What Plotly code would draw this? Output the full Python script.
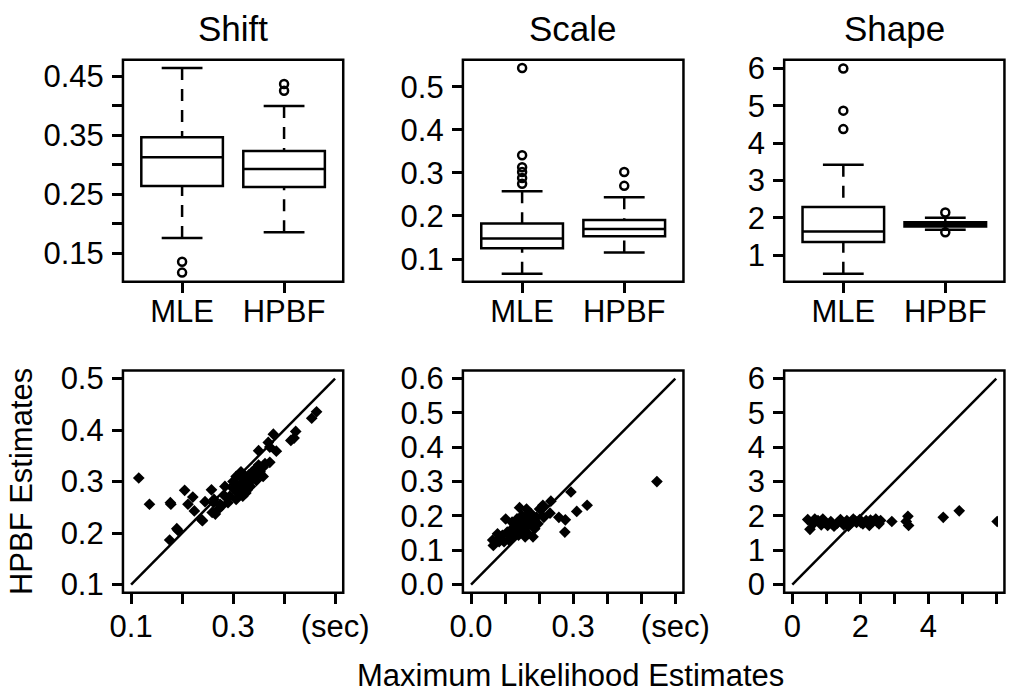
import plotly.graph_objects as go

# ---------------- data ----------------
box_labels = ["MLE", "HPBF"]

# Shift box statistics [MLE, HPBF]
shift_q1 = [0.264, 0.2625]
shift_med = [0.3126, 0.2928]
shift_q3 = [0.3466, 0.3235]
shift_lo = [0.176, 0.186]
shift_hi = [0.4637, 0.3994]
shift_out_mle = [0.136, 0.1175]
shift_out_hpbf = [0.4368, 0.4253]

# Scale box statistics
scale_q1 = [0.125, 0.153]
scale_med = [0.1475, 0.170]
scale_q3 = [0.1824, 0.1905]
scale_lo = [0.066, 0.1152]
scale_hi = [0.2577, 0.2434]
scale_out_mle = [0.5437, 0.341, 0.313, 0.302, 0.288, 0.275]
scale_out_hpbf = [0.302, 0.270]

# Shape box statistics
shape_q1 = [1.35, 1.77]
shape_med = [1.636, 1.83]
shape_q3 = [2.288, 1.88]
shape_lo = [0.504, 1.68]
shape_hi = [3.418, 2.00]
shape_out_mle = [6.0, 4.87, 4.375]
shape_out_hpbf = [2.14, 1.61]

# Scatter: MLE (x) vs HPBF (y)
shift_mle = [0.115, 0.136, 0.177, 0.178, 0.205, 0.221, 0.2115, 0.224, 0.245, 0.2576,
             0.240, 0.1896, 0.192, 0.1756, 0.259, 0.262, 0.2626, 0.2777, 0.284, 0.2936,
             0.2998, 0.3061, 0.306, 0.3125, 0.3155, 0.3187, 0.322, 0.325, 0.328, 0.331,
             0.334, 0.3376, 0.3407, 0.344, 0.347, 0.350, 0.353, 0.359, 0.3626, 0.3457,
             0.350, 0.369, 0.379, 0.372, 0.3848, 0.372, 0.4133, 0.4196, 0.4228, 0.4542,
             0.4637, 0.2998, 0.309, 0.319, 0.328, 0.322, 0.334, 0.353, 0.3407, 0.284,
             0.290, 0.2715, 0.2746, 0.2652, 0.2387, 0.306, 0.3125, 0.359]
shift_hpbf = [0.307, 0.256, 0.259, 0.256, 0.283, 0.270, 0.256, 0.243, 0.261, 0.284,
              0.224, 0.2086, 0.205, 0.1865, 0.240, 0.259, 0.2654, 0.2527, 0.2905, 0.2716,
              0.300, 0.294, 0.2654, 0.281, 0.319, 0.306, 0.2905, 0.278, 0.297, 0.313,
              0.3035, 0.319, 0.306, 0.325, 0.313, 0.332, 0.319, 0.328, 0.335, 0.302,
              0.360, 0.376, 0.392, 0.367, 0.359, 0.3375, 0.380, 0.3845, 0.3975, 0.423,
              0.4355, 0.287, 0.278, 0.2716, 0.284, 0.310, 0.2905, 0.325, 0.319, 0.2716,
              0.259, 0.2465, 0.2558, 0.2369, 0.2256, 0.310, 0.294, 0.310]

scale_mle = [0.2934, 0.341, 0.3105, 0.277, 0.258, 0.2755, 0.2345, 0.232, 0.211, 0.2013,
             0.2137, 0.1425, 0.163, 0.1017, 0.182, 0.159, 0.0636, 0.0655, 0.0778, 0.0826,
             0.0921, 0.1064, 0.1159, 0.1206, 0.130, 0.135, 0.1444, 0.149, 0.154, 0.159,
             0.163, 0.168, 0.173, 0.1776, 0.182, 0.192, 0.1966, 0.1871, 0.206, 0.125,
             0.111, 0.1396, 0.130, 0.0826, 0.097, 0.1444, 0.154, 0.168, 0.1206, 0.135,
             0.149, 0.546]
scale_hpbf = [0.2697, 0.231, 0.213, 0.1885, 0.196, 0.153, 0.243, 0.208, 0.231, 0.220,
              0.196, 0.224, 0.220, 0.191, 0.139, 0.139, 0.1297, 0.114, 0.148, 0.133,
              0.1436, 0.153, 0.1486, 0.1628, 0.1723, 0.1581, 0.1817, 0.1675, 0.1912, 0.177,
              0.2006, 0.1723, 0.1865, 0.2054, 0.1817, 0.196, 0.177, 0.1628, 0.2196, 0.139,
              0.1297, 0.1439, 0.153, 0.125, 0.125, 0.1628, 0.153, 0.148, 0.1817, 0.1912,
              0.2006, 0.300]

shape_mle = [0.453, 0.519, 0.614, 0.755, 0.850, 0.944, 1.039, 1.133, 1.227, 1.322,
             1.416, 1.511, 1.605, 1.700, 1.794, 1.889, 1.983, 2.077, 2.172, 2.266,
             2.361, 2.455, 2.550, 2.597, 2.927, 3.400, 3.420, 3.350, 4.440, 4.910,
             6.025, 0.661, 0.897, 1.180, 1.460, 1.650, 1.850, 2.020, 2.300, 2.500]
shape_hpbf = [1.893, 1.610, 1.770, 1.865, 1.740, 1.810, 1.720, 1.837, 1.700, 1.790,
              1.893, 1.740, 1.865, 1.770, 1.910, 1.810, 1.893, 1.770, 1.865, 1.720,
              1.837, 1.910, 1.770, 1.865, 1.837, 1.987, 1.720, 1.840, 1.960, 2.149,
              1.837, 1.910, 1.910, 1.760, 1.800, 1.700, 1.850, 1.800, 1.880, 1.820]

titles = ["Shift", "Scale", "Shape"]

# ---------------- layout geometry ----------------
W, H = 1024, 695
FONT = "Liberation Sans, Arial, Helvetica, sans-serif"
col_px = [(114.3, 343.3), (467.7, 697.0), (801.7, 1030.7)]
row_px = [(52.0, 280.0), (371.0, 599.3)]

box_yrange = [(0.102, 0.478), (0.0473, 0.563), (0.288, 6.235)]
box_ytick = [
    ([0.15, 0.20, 0.25, 0.30, 0.35, 0.40, 0.45], ["0.15", "", "0.25", "", "0.35", "", "0.45"]),
    ([0.1, 0.2, 0.3, 0.4, 0.5], ["0.1", "0.2", "0.3", "0.4", "0.5"]),
    ([1, 2, 3, 4, 5, 6], ["1", "2", "3", "4", "5", "6"]),
]
sc_range = [(0.084, 0.516), (-0.024, 0.624), (-0.24, 6.24)]
sc_ytick = [
    ([0.1, 0.2, 0.3, 0.4, 0.5], ["0.1", "0.2", "0.3", "0.4", "0.5"]),
    ([0.0, 0.1, 0.2, 0.3, 0.4, 0.5, 0.6], ["0.0", "0.1", "0.2", "0.3", "0.4", "0.5", "0.6"]),
    ([0, 1, 2, 3, 4, 5, 6], ["0", "1", "2", "3", "4", "5", "6"]),
]
sc_xtick = [
    ([0.1, 0.2, 0.3, 0.4, 0.5], ["0.1", "", "0.3", "", "(sec)"]),
    ([0.0, 0.1, 0.2, 0.3, 0.4, 0.5, 0.6], ["0.0", "", "", "0.3", "", "", "(sec)"]),
    ([0, 1, 2, 3, 4, 5, 6], ["0", "", "2", "", "4", "", ""]),
]
diag = [(0.1, 0.5), (0.0, 0.6), (0.0, 6.0)]

box_stats = [
    (shift_q1, shift_med, shift_q3, shift_lo, shift_hi, shift_out_mle, shift_out_hpbf),
    (scale_q1, scale_med, scale_q3, scale_lo, scale_hi, scale_out_mle, scale_out_hpbf),
    (shape_q1, shape_med, shape_q3, shape_lo, shape_hi, shape_out_mle, shape_out_hpbf),
]
scatters = [(shift_mle, shift_hpbf), (scale_mle, scale_hpbf), (shape_mle, shape_hpbf)]

fig = go.Figure()
layout = dict(width=W, height=H, margin=dict(l=0, r=0, t=0, b=0),
              paper_bgcolor="white", plot_bgcolor="white", showlegend=False,
              font=dict(family=FONT, size=30, color="black"))
shapes = []
annotations = []

LW = 2.5
axis_common = dict(showgrid=False, zeroline=False, showline=False, ticks="outside",
                   ticklen=10, tickwidth=LW, tickcolor="black",
                   tickfont=dict(family=FONT, size=31, color="black"))


def xdom_range(c, lo, hi):
    x0, x1 = col_px[c]
    if x1 > W:
        hi = lo + (W - x0) / (x1 - x0) * (hi - lo)
        x1 = W
    return [x0 / W, x1 / W], [lo, hi]


line_k = dict(color="black", width=LW)
for r in range(2):
    for c in range(3):
        idx = r * 3 + c + 1
        xa = "x" if idx == 1 else f"x{idx}"
        ya = "y" if idx == 1 else f"y{idx}"
        xkey = "xaxis" if idx == 1 else f"xaxis{idx}"
        ykey = "yaxis" if idx == 1 else f"yaxis{idx}"
        y0p, y1p = row_px[r]
        ydom = [1 - y1p / H, 1 - y0p / H]
        if r == 0:
            xdom, xr = xdom_range(c, 0.42, 2.58)
            layout[xkey] = dict(domain=xdom, range=xr, anchor=ya, tickvals=[1, 2],
                                ticktext=box_labels, ticklabelstandoff=-8, **axis_common)
            tv, tt = box_ytick[c]
            layout[ykey] = dict(domain=ydom, range=list(box_yrange[c]), anchor=xa,
                                tickvals=tv, ticktext=tt, ticklabelstandoff=2, **axis_common)
            q1, med, q3, lo, hi, out_a, out_b = box_stats[c]
            for i in range(2):
                p = i + 1
                fig.add_trace(go.Box(x=[p], q1=[q1[i]], median=[med[i]], q3=[q3[i]],
                                     lowerfence=[q1[i]], upperfence=[q3[i]], width=0.8,
                                     whiskerwidth=0, fillcolor="white", line=line_k,
                                     boxpoints=False, hoverinfo="skip",
                                     xaxis=xa, yaxis=ya))
                fig.add_trace(go.Scatter(x=[p, p, None, p, p], y=[hi[i], q3[i], None, lo[i], q1[i]],
                                         mode="lines", line=dict(color="black", width=LW, dash="12px,9px"),
                                         xaxis=xa, yaxis=ya))
                fig.add_trace(go.Scatter(x=[p - 0.2, p + 0.2, None, p - 0.2, p + 0.2],
                                         y=[hi[i], hi[i], None, lo[i], lo[i]],
                                         mode="lines", line=line_k, xaxis=xa, yaxis=ya))
            for p, outs in ((1, out_a), (2, out_b)):
                fig.add_trace(go.Scatter(x=[p] * len(outs), y=outs, mode="markers",
                                         marker=dict(symbol="circle-open", size=8, color="black",
                                                     line=dict(width=2.5, color="black")),
                                         xaxis=xa, yaxis=ya, cliponaxis=False))
        else:
            lo_, hi_ = sc_range[c]
            xdom, xr = xdom_range(c, lo_, hi_)
            tv, tt = sc_xtick[c]
            layout[xkey] = dict(domain=xdom, range=xr, anchor=ya, tickvals=tv, ticktext=tt,
                                ticklabelstandoff=-4, **axis_common)
            tv, tt = sc_ytick[c]
            layout[ykey] = dict(domain=ydom, range=[lo_, hi_], anchor=xa, tickvals=tv,
                                ticktext=tt, ticklabelstandoff=2, **axis_common)
            d0, d1 = diag[c]
            fig.add_trace(go.Scatter(x=[d0, d1], y=[d0, d1], mode="lines", line=line_k,
                                     xaxis=xa, yaxis=ya))
            sx, sy = scatters[c]
            fig.add_trace(go.Scatter(x=sx, y=sy, mode="markers",
                                     marker=dict(symbol="diamond", size=9, color="black"),
                                     xaxis=xa, yaxis=ya))
        # frame
        x0p, x1p = col_px[c]
        shapes.append(dict(type="rect", xref="paper", yref="paper", x0=x0p / W, x1=x1p / W,
                           y0=ydom[0], y1=ydom[1], line=line_k, layer="above"))

# titles
for c in range(3):
    x0p, x1p = col_px[c]
    annotations.append(dict(text=titles[c], x=(x0p + x1p) / 2 / W, y=1 - 20 / H,
                            xref="paper", yref="paper", showarrow=False,
                            xanchor="center", yanchor="middle",
                            font=dict(family=FONT, size=35, color="black")))
annotations.append(dict(text="HPBF Estimates", x=9 / W, y=1 - 485 / H, xref="paper",
                        yref="paper", showarrow=False, textangle=-90,
                        xanchor="center", yanchor="middle",
                        font=dict(family=FONT, size=31, color="black")))
annotations.append(dict(text="Maximum Likelihood Estimates", x=580 / W, y=1 - 684 / H,
                        xref="paper", yref="paper", showarrow=False,
                        xanchor="center", yanchor="middle",
                        font=dict(family=FONT, size=31, color="black")))

layout["shapes"] = shapes
layout["annotations"] = annotations
fig.update_layout(**layout)
fig.write_html("out.html")
